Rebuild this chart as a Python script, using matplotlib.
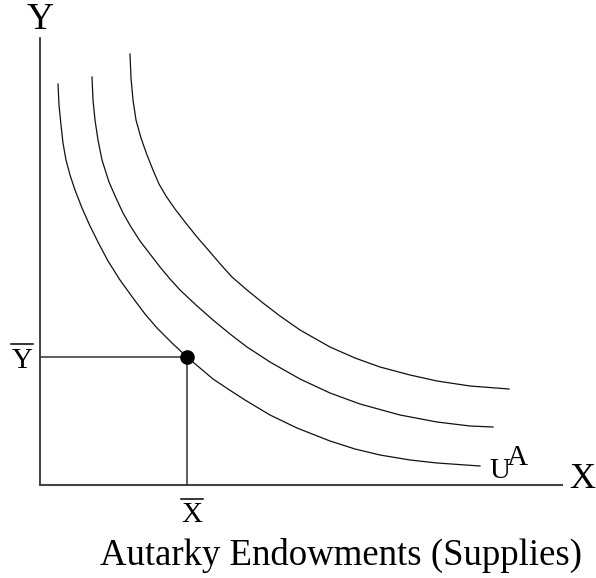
import matplotlib
matplotlib.use("Agg")
import matplotlib.pyplot as plt

plt.rcParams['font.family'] = ['Liberation Serif', 'DejaVu Serif']

# indifference curves (pixel units, y down)
u1_x = [58, 59, 61, 63, 66, 70, 75, 82, 90, 99, 108, 120, 133, 145, 157, 172,
        187, 200, 213, 228, 245, 270, 297, 330, 355, 380, 410, 437, 480]
u1_y = [84, 105, 125, 143, 160, 175, 190, 208, 226, 244, 261, 280, 298, 314, 328, 343,
        357, 368, 379, 389, 400, 415, 428, 441, 449, 455, 460, 463, 466]

u2_x = [92, 93, 95, 98, 102, 109, 116, 123, 131, 140, 150, 160, 170, 180, 196,
        213, 230, 247, 270, 300, 330, 360, 400, 437, 470, 493]
u2_y = [77, 100, 120, 140, 160, 182, 198, 213, 227, 241, 254, 267, 279, 290, 305,
        320, 334, 347, 362, 379, 393, 404, 415, 422, 426, 427]

u3_x = [130, 131, 133, 136, 141, 147, 153, 159, 166, 175, 185, 197, 210, 222, 232, 247,
        263, 280, 300, 330, 355, 380, 410, 437, 470, 509]
u3_y = [54, 78, 100, 120, 138, 155, 170, 184, 196, 209, 222, 237, 252, 266, 277, 290,
        303, 316, 330, 347, 358, 367, 375, 381, 386, 389]

# autarky endowment
x_bar = 187
y_bar = 357

# axes
origin_x, origin_y = 40, 485
y_top, x_right = 38, 562

fig = plt.figure(figsize=(5.96, 5.78), dpi=100)
ax = fig.add_axes([0, 0, 1, 1])
ax.set_xlim(0, 596)
ax.set_ylim(578, 0)
ax.axis('off')

ax.plot([origin_x, origin_x], [origin_y, y_top], color='#222222', lw=1.2)
ax.plot([origin_x, x_right], [origin_y, origin_y], color='#444444', lw=1.5)

for xs, ys in [(u1_x, u1_y), (u2_x, u2_y), (u3_x, u3_y)]:
    ax.plot(xs, ys, color='#111111', lw=0.9, solid_joinstyle='round')

ax.plot([origin_x, x_bar], [y_bar, y_bar], color='#333333', lw=1.1)
ax.plot([x_bar, x_bar], [y_bar, origin_y], color='#333333', lw=1.1)
ax.plot([x_bar], [y_bar], 'o', color='black', ms=9.5)

ax.text(40.5, 20, 'Y', fontsize=27, ha='center', va='center')
ax.text(582, 480, 'X', fontsize=26, ha='center', va='center')

# Y-bar and X-bar labels
ax.text(22, 368, 'Y', fontsize=21, ha='center', va='baseline')
ax.plot([11, 33], [344, 344], color='black', lw=1.1)
ax.text(192, 522, 'X', fontsize=21, ha='center', va='baseline')
ax.plot([181, 203], [499, 499], color='black', lw=1.1)

ax.text(489, 478, 'U', fontsize=21, ha='left', va='baseline')
ax.text(507, 465, 'A', fontsize=21, ha='left', va='baseline')
ax.text(341, 565, 'Autarky Endowments (Supplies)', fontsize=26.5,
        ha='center', va='baseline')

fig.savefig('out.png', dpi=100)
